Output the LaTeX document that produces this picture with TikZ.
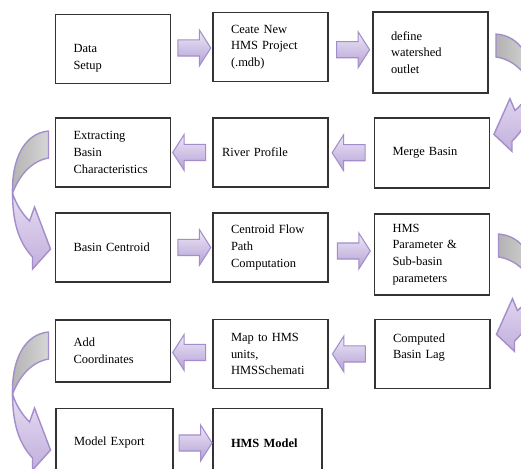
\documentclass[tikz,border=0pt]{standalone}
\usepackage{fontspec}
\setmainfont{Liberation Serif}
\usetikzlibrary{shapes.arrows}
\definecolor{arrowtop}{HTML}{EEE8F7}
\definecolor{arrowbot}{HTML}{B3A0D5}
\definecolor{arrowline}{HTML}{A38ECB}
\definecolor{bendtop}{HTML}{E6DDF2}
\definecolor{bendbot}{HTML}{C2AFDD}

\begin{document}
\begin{tikzpicture}[x=0.02cm, y=-0.02cm,
    procbox/.style={rectangle, draw=black!80, line width=1.1pt, fill=white,
      align=left, text width=1.58cm, inner xsep=0.36cm, inner ysep=0pt,
      minimum height=1.38cm, font=\fontsize{7.1}{9.5}\selectfont},
    blockR/.style={single arrow, draw=arrowline, line width=0.6pt,
      top color=arrowtop, bottom color=arrowbot, inner xsep=0pt,
      inner ysep=0.15cm, minimum height=0.66cm,
      single arrow head extend=0.2cm, single arrow tip angle=115},
    blockL/.style={blockR, shape border rotate=180},
    bendarrow/.pic={
      \draw[arrowline, line width=0.8pt, left color=black!30, right color=black!16]
        (0,0) .. controls (24,2) and (37,28) .. (36,62)
        .. controls (30,46) and (18,30) .. (0,27) -- cycle;
      \draw[arrowline, line width=0.8pt, top color=bendtop, bottom color=bendbot]
        (36,62) .. controls (36,95) and (28,113) .. (16,126) -- (16,138)
        -- (-2,118) -- (14,76) -- (19,90)
        .. controls (27,82) and (33,72) .. (36,62) -- cycle;
    }]
  \useasboundingbox (0,0) rectangle (521,469);
  \clip (0,0) rectangle (521,469);
  \fill[white] (0,0) rectangle (521,469);

  % first row
  \node[procbox] (data) at (113,49) {\rule{0pt}{15pt}Data\\Setup};
  \node[procbox] (create) at (270.5,47) {Ceate New\\HMS Project\\(.mdb)};
  \node[procbox, minimum height=1.62cm] (outlet) at (430.5,52.5) {define\\watershed\\outlet};
  % second row
  \node[procbox] (extract) at (113,152.5) {Extracting\\Basin\\Characteristics};
  \node[procbox] (river) at (270.5,152.5) {\hspace*{-0.18cm}River Profile};
  \node[procbox, minimum height=1.40cm] (merge) at (432,153) {Merge Basin};
  % third row
  \node[procbox] (centroid) at (113,247.5) {Basin Centroid};
  \node[procbox] (flow) at (270.5,247.5) {Centroid Flow\\Path\\Computation};
  \node[procbox, minimum height=1.62cm] (param) at (432,254.5) {HMS\\Parameter \&\\Sub-basin\\parameters};
  % fourth row
  \node[procbox, minimum height=1.24cm] (coord) at (113,351) {Add\\Coordinates};
  \node[procbox] (map) at (270.5,354) {\makebox[\linewidth][s]{Map to HMS}\\units,\\HMSSchemati};
  \node[procbox] (lag) at (432.5,354) {Computed\\Basin Lag\rule[-9pt]{0pt}{0pt}};
  % last row
  \node[procbox, text width=1.62cm] (export) at (114.5,443) {Model Export};
  \node[procbox, text width=1.46cm] (model) at (267.5,443) {\textbf{HMS Model}};

  % straight block arrows
  \path (data) -- node[blockR] {} (create);
  \path (create) -- node[blockR] {} (outlet);
  \path (merge) -- node[blockL] {} (river);
  \path (river) -- node[blockL] {} (extract);
  \path (centroid) -- node[blockR] {} (flow);
  \path (flow) -- node[blockR] {} (param);
  \path (lag) -- node[blockL] {} (map);
  \path (map) -- node[blockL] {} (coord);
  \path (export) -- node[blockR] {} (model);

  % bent arrows between rows
  \pic[yscale=0.85] at ([shift={(7,23)}]outlet.north east) {bendarrow};
  \pic[xscale=-1] at ([shift={(-6,14)}]extract.north west) {bendarrow};
  \pic[yscale=0.85] at ([shift={(8,21)}]param.north east) {bendarrow};
  \pic[xscale=-1] at ([shift={(-6,13)}]coord.north west) {bendarrow};
\end{tikzpicture}
\end{document}
